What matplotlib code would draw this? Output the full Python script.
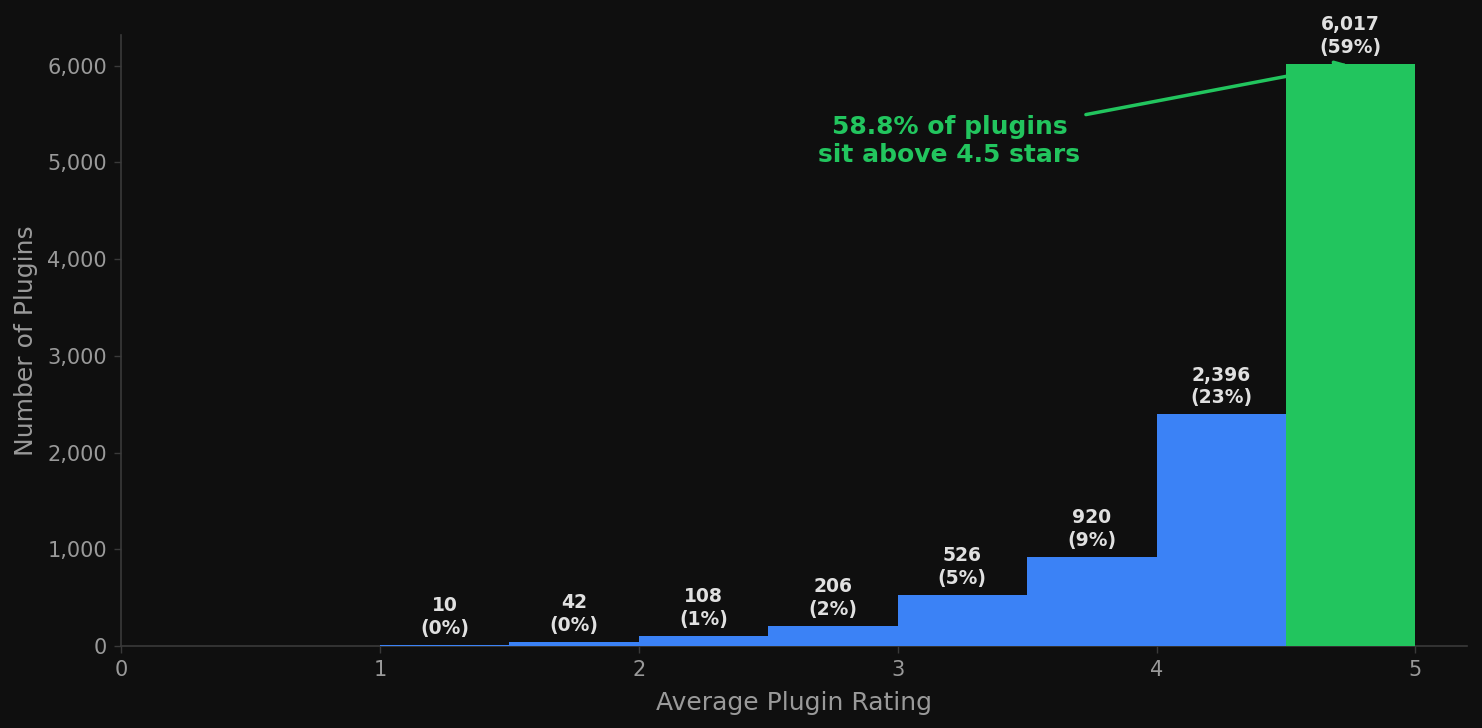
import matplotlib
matplotlib.use("Agg")
import matplotlib.pyplot as plt
from matplotlib.ticker import FuncFormatter

# histogram bins of average plugin rating
bin_left = [1.0, 1.5, 2.0, 2.5, 3.0, 3.5, 4.0, 4.5]
bin_width = 0.5
counts = [10, 42, 108, 206, 526, 920, 2396, 6017]

BG = "#0f0f0f"
BLUE = "#3b82f6"
GREEN = "#22c55e"
MUTED = "#9a9a9a"
LABEL = "#e0e0e0"
SPINE = "#3a3a3a"

total = sum(counts)

fig = plt.figure(figsize=(14.82, 7.28), dpi=100, facecolor=BG)
ax = fig.add_axes([0.0816, 0.1126, 0.9084, 0.8394])
ax.set_facecolor(BG)

colors = [GREEN if x >= 4.5 else BLUE for x in bin_left]
bars = ax.bar(bin_left, counts, width=bin_width, align="edge", color=colors, zorder=3)

for x, c in zip(bin_left, counts):
    pct = c / total * 100
    ax.annotate(f"{c:,}\n({pct:.0f}%)", xy=(x + bin_width / 2, c), xytext=(0, 5),
                textcoords="offset points", ha="center", va="bottom",
                fontsize=13.5, fontweight="bold", color=LABEL, linespacing=1.25,
                zorder=4)

share = counts[-1] / total * 100
ax.annotate(f"{share:.1f}% of plugins\nsit above 4.5 stars",
            xy=(4.75, counts[-1]), xytext=(3.2, 5225),
            ha="center", va="center", fontsize=18, fontweight="bold", color=GREEN,
            arrowprops=dict(arrowstyle="-|>", color=GREEN, lw=2.5), zorder=1)

ax.set_xlim(0, 5.2)
ax.set_ylim(0, counts[-1] * 1.05)
ax.yaxis.set_major_formatter(FuncFormatter(lambda v, p: f"{v:,.0f}"))

ax.set_xlabel("Average Plugin Rating", fontsize=18, color=MUTED, labelpad=8)
ax.set_ylabel("Number of Plugins", fontsize=18, color=MUTED, labelpad=7)
ax.tick_params(colors=MUTED, labelsize=15, length=5, width=1, pad=5)
ax.tick_params(axis="both", color=SPINE)
for s in ["top", "right"]:
    ax.spines[s].set_visible(False)
for s in ["left", "bottom"]:
    ax.spines[s].set_color(SPINE)
    ax.spines[s].set_linewidth(1.2)

fig.savefig("out.png", dpi=100, facecolor=BG)
